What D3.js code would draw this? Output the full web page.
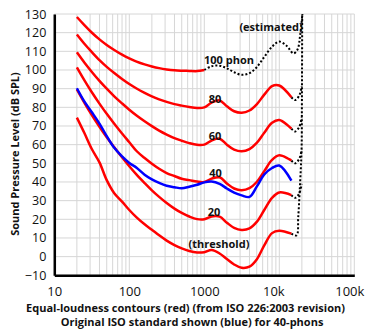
<!DOCTYPE html>
<html><head><meta charset="utf-8">
<script src="https://cdn.jsdelivr.net/npm/d3@7"></script>
<style>
body{margin:0;background:#fff;}
svg{display:block;font-family:"Open Sans",sans-serif;}
</style></head><body>
<svg id="chart" width="375" height="336"></svg>
<script>
// ---- data ----
const freqs = [20,25,31.5,40,50,63,80,100,125,160,200,250,315,400,500,630,800,1000,1250,1600,2000,2500,3150,4000,5000,6300,8000,10000,14500];
const freqs100 = [20,25,31.5,40,50,63,80,100,125,160,200,250,315,400,500,630,800,1000];
const phon100 = [128.4,124.2,120.1,116.4,113.4,110.7,108.2,106.2,104.5,103.0,101.9,101.0,100.3,99.8,99.6,99.5,99.4,100.0];
const phon80 = [119.0,114.2,109.7,105.3,101.7,98.4,95.2,92.5,90.1,87.8,85.9,84.3,82.9,81.7,80.9,80.2,79.7,80.0,82.5,83.7,80.6,77.9,77.1,78.3,81.6,86.8,91.4,91.7,85.4];
const phon60 = [109.5,104.2,99.1,94.2,90.0,85.9,82.1,78.7,75.6,72.5,69.9,67.5,65.4,63.5,62.1,60.8,59.9,60.0,62.2,63.2,60.0,57.3,56.4,57.6,60.9,66.4,71.7,73.2,68.6];
const phon40 = [101.4,94.7,88.2,82.0,76.5,71.2,66.0,61.3,56.6,52.8,49.8,47.1,44.8,43.2,41.7,41.0,40.2,40.0,41.8,42.5,39.2,36.5,35.6,36.7,40.0,45.8,51.8,54.3,51.5];
const phon20 = [89.6,82.7,76.0,69.6,64.0,58.6,53.2,48.4,43.9,39.4,35.5,32.0,28.7,25.7,23.4,21.5,20.1,20.0,21.5,21.4,18.2,15.4,14.3,15.1,18.6,25.0,31.5,34.4,33.0];
const threshold = [74.5,66.5,57.8,50.5,41.0,34.0,29.5,25.0,21.0,17.3,14.4,11.4,8.6,6.2,4.4,3.0,2.2,2.4,3.5,1.7,-1.3,-4.2,-6.0,-5.4,-1.5,6.0,12.6,13.9,12.3];
const blueOld40 = [90.2,83.3,77.5,71.3,64.6,58.3,53.7,50.2,47.6,43.9,41.4,39.5,38.0,37.2,36.6,37.4,38.5,39.8,40.2,39.0,36.5,34.3,32.8,32.0,37.5,44.0,47.5,48.8,40.7];

// estimated (dotted) extensions
const estFreqs100 = [1000,1250,1600,2000,2500,3150,4000,5000,6300,8000,10000,12500,15400,17500,19000,20300];
const est100 = [100.0,102.0,102.3,100.9,98.8,97.4,98.3,101.5,107.0,112.5,115.2,113.0,108.9,111.0,119.0,130.0];
const estFreqsEdge = [14500,17000,17900,18900,19800,20000,20100,20200];
const estEdge = [12.3,11.4,21.5,39.0,57.0,80.0,100.0,130.0];
const estFreqsTail = [14500,16300,18500,19900];
const estTailDrop = [0,-1.5,1.0,6.0];

const yTicks = [-10,0,10,20,30,40,50,60,70,80,90,100,110,120,130];
const xTicks = [10,100,1000,10000,100000];
const xTickLabels = ["10","100","1000","10k","100k"];

const curveLabels = ["100 phon","80","60","40","20","(threshold)","(estimated)"];
const yTitle = "Sound Pressure Level (dB SPL)";
const titleLines = ["Equal-loudness contours (red) (from ISO 226:2003 revision)","Original ISO standard shown (blue) for 40-phons"];

// ---- chart ----
const svg = d3.select("#chart");
const L = 54.3, R = 354.3, T = 14, B = 275.3;
const x = d3.scaleLog().domain([10,100000]).range([L,R]);
const y = d3.scaleLinear().domain([-10,130]).range([B,T]);

const grid = svg.append("g").attr("stroke","#d6d6d6").attr("stroke-width",1);
grid.selectAll("line.v").data(x.ticks()).join("line")
  .attr("x1",d=>x(d)).attr("x2",d=>x(d)).attr("y1",T).attr("y2",B);
grid.selectAll("line.h").data(yTicks).join("line")
  .attr("x1",L).attr("x2",R).attr("y1",d=>y(d)).attr("y2",d=>y(d));

const line = d3.line().x(d=>x(d[0])).y(d=>y(d[1])).curve(d3.curveCatmullRom.alpha(0.5));
const zip = (fs,vs)=>fs.map((f,i)=>[f,vs[i]]);

const reds = [phon80,phon60,phon40,phon20,threshold];
reds.slice(0,4).forEach(vs=>{
  const end = vs[vs.length-1];
  svg.append("path").attr("d",line(estFreqsTail.map((f,i)=>[f,end+estTailDrop[i]])))
    .attr("fill","none").attr("stroke","#000").attr("stroke-width",2).attr("stroke-dasharray","2,2");
});
svg.append("path").attr("d",line(zip(estFreqsEdge,estEdge)))
  .attr("fill","none").attr("stroke","#000").attr("stroke-width",2).attr("stroke-dasharray","2,2");
svg.append("path").attr("d",line(zip(estFreqs100,est100)))
  .attr("fill","none").attr("stroke","#000").attr("stroke-width",2).attr("stroke-dasharray","2,2");

svg.append("path").attr("d",line(zip(freqs100,phon100)))
  .attr("fill","none").attr("stroke","#ff0000").attr("stroke-width",2.5);
reds.forEach(vs=>{
  svg.append("path").attr("d",line(zip(freqs,vs)))
    .attr("fill","none").attr("stroke","#ff0000").attr("stroke-width",2.5);
});
svg.append("path").attr("d",line(zip(freqs,blueOld40)))
  .attr("fill","none").attr("stroke","#0000ff").attr("stroke-width",2.5);

// axes
const yAxis = svg.append("g").attr("transform",`translate(${L},0)`)
  .call(d3.axisLeft(y).tickValues(yTicks).tickSize(0).tickSizeOuter(0).tickPadding(8));
yAxis.select(".domain").attr("stroke","#000").attr("stroke-width",2.5);
yAxis.selectAll("text").attr("font-size",12.5).attr("font-family","Open Sans").attr("fill","#111");

const xAxis = svg.append("g").attr("transform",`translate(0,${B})`)
  .call(d3.axisBottom(x).tickValues(xTicks).tickFormat((d,i)=>xTickLabels[i]).tickSize(0).tickSizeOuter(0).tickPadding(11));
xAxis.select(".domain").attr("stroke","#000").attr("stroke-width",2.5);
xAxis.selectAll("text").attr("font-size",13).attr("font-family","Open Sans").attr("fill","#111")
  .attr("dx",(d,i)=>i===3?-6:(i===4?-5:0));

// curve labels
const labelPos = [[229,64],[215,103],[215,140],[215.5,177],[214,216],[219,248],[271,31]];
svg.append("g").attr("font-weight","bold").attr("font-size",11).attr("text-anchor","middle").attr("fill","#111")
  .selectAll("text").data(curveLabels).join("text")
  .attr("x",(d,i)=>labelPos[i][0]).attr("y",(d,i)=>labelPos[i][1]).text(d=>d);

svg.append("text").attr("transform","translate(19,154) rotate(-90)")
  .attr("text-anchor","middle").attr("font-weight","bold").attr("font-size",11).attr("fill","#111").text(yTitle);

svg.append("g").attr("font-weight","bold").attr("font-size",11).attr("text-anchor","middle").attr("fill","#111")
  .selectAll("text").data(titleLines).join("text")
  .attr("x",(d,i)=>i===0?185.5:192).attr("y",(d,i)=>312+i*13.5).text(d=>d);
</script>
</body></html>
